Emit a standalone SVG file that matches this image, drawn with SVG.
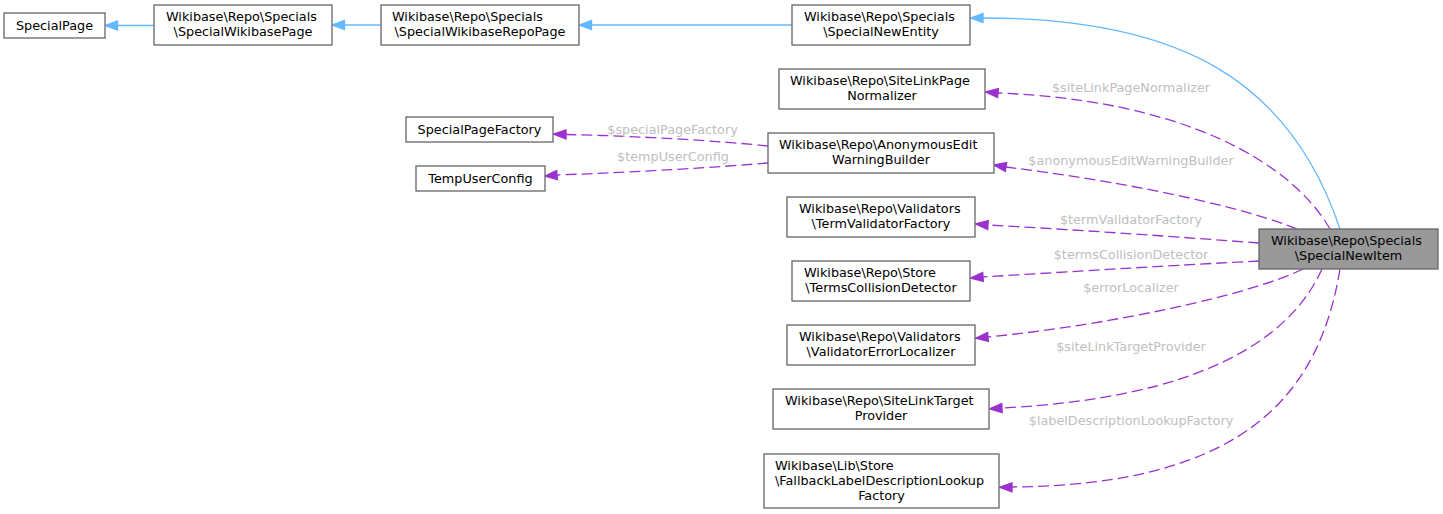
<svg xmlns="http://www.w3.org/2000/svg" width="1443" height="514" viewBox="0 0 1443 514">
<style>
.node rect{fill:#ffffff;stroke:#666666;stroke-width:1.3}
.node.sel rect{fill:#999999}
.node text{font-family:"DejaVu Sans",sans-serif;font-size:12.8px;fill:#000000}
.s{text-anchor:start}
.m{text-anchor:middle}
.inh{fill:none;stroke:#63b8ff;stroke-width:1.3}
.inhh{fill:#63b8ff;stroke:#63b8ff;stroke-width:1.3}
.use{fill:none;stroke:#9a32cd;stroke-width:1.3;stroke-dasharray:11,5}
.useh{fill:#9a32cd;stroke:#9a32cd;stroke-width:1.3}
.lbl{font-family:"DejaVu Sans",sans-serif;font-size:12.8px;fill:#c0c0c0;text-anchor:middle}
</style>
<rect width="1443" height="514" fill="#ffffff"/>
<g id="edges">
<path class="inh" d="M154,25.5 L117.5,25.5"/>
<polygon class="inhh" points="105,25.5 117.5,21 117.5,30"/>
<path class="inh" d="M381,25 L344.5,25"/>
<polygon class="inhh" points="332,25 344.5,20.5 344.5,29.5"/>
<path class="inh" d="M792,25 L591.5,25"/>
<polygon class="inhh" points="579,25 591.5,20.5 591.5,29.5"/>
<path class="inh" d="M1340,229 C1290,80 1180,18 983,18"/>
<polygon class="inhh" points="970.5,18 983,13.5 983,22.5"/>

<path class="use" d="M1330,229 C1290,160 1180,100 998,93"/>
<polygon class="useh" points="985.5,92 998.4,88.5 997.6,97.5"/>
<text class="lbl" x="1131" y="92">$siteLinkPageNormalizer</text>

<path class="use" d="M768,146 C720,141 640,136 566,134.5"/>
<polygon class="useh" points="553.5,134 566,130 566,139"/>
<text class="lbl" x="672.5" y="134">$specialPageFactory</text>

<path class="use" d="M768,163 C720,167 640,172 557,175"/>
<polygon class="useh" points="545,176 557.4,179.5 556.6,170.5"/>
<text class="lbl" x="673" y="161">$tempUserConfig</text>

<path class="use" d="M1297,229 C1250,210 1150,185 1006,167"/>
<polygon class="useh" points="994,165 1006.7,162.6 1005.3,171.4"/>
<text class="lbl" x="1131" y="165">$anonymousEditWarningBuilder</text>

<path class="use" d="M1259,243 C1180,237 1080,230 988,225"/>
<polygon class="useh" points="975.5,224 988.3,220.5 987.7,229.5"/>
<text class="lbl" x="1131" y="223.5">$termValidatorFactory</text>

<path class="use" d="M1259,261 C1180,265 1080,271 983,277"/>
<polygon class="useh" points="970.5,278 982.7,272.5 983.3,281.5"/>
<text class="lbl" x="1131" y="258.5">$termsCollisionDetector</text>

<path class="use" d="M1303,269 C1250,295 1110,325 988,337"/>
<polygon class="useh" points="975.5,338.2 988.4,341.5 987.6,332.5"/>
<text class="lbl" x="1131" y="292">$errorLocalizer</text>

<path class="use" d="M1322,269 C1290,340 1200,398 1002,408"/>
<polygon class="useh" points="989.5,408.8 1002.2,412.5 1001.8,403.5"/>
<text class="lbl" x="1131" y="351">$siteLinkTargetProvider</text>

<path class="use" d="M1340,269 C1320,390 1250,485 1012,487"/>
<polygon class="useh" points="999.5,487.3 1012,482.8 1012,491.8"/>
<text class="lbl" x="1131" y="424.5">$labelDescriptionLookupFactory</text>
</g>

<g id="SpecialPage" class="node">
<rect x="4" y="13" width="101" height="25"/>
<text class="m" x="54.5" y="30">SpecialPage</text>
</g>
<g id="SpecialWikibasePage" class="node">
<rect x="154" y="5" width="178" height="40"/>
<text class="s" x="166" y="21">Wikibase\Repo\Specials</text>
<text class="m" x="243" y="36">\SpecialWikibasePage</text>
</g>
<g id="SpecialWikibaseRepoPage" class="node">
<rect x="381" y="5" width="198" height="40"/>
<text class="s" x="392" y="21">Wikibase\Repo\Specials</text>
<text class="m" x="480" y="36">\SpecialWikibaseRepoPage</text>
</g>
<g id="SpecialNewEntity" class="node">
<rect x="792" y="5" width="178" height="40"/>
<text class="s" x="804" y="21">Wikibase\Repo\Specials</text>
<text class="m" x="881" y="36">\SpecialNewEntity</text>
</g>
<g id="SiteLinkPageNormalizer" class="node">
<rect x="779" y="69" width="206" height="40"/>
<text class="s" x="790" y="85">Wikibase\Repo\SiteLinkPage</text>
<text class="m" x="882" y="100">Normalizer</text>
</g>
<g id="SpecialPageFactory" class="node">
<rect x="406" y="117" width="147" height="25"/>
<text class="m" x="479.5" y="134">SpecialPageFactory</text>
</g>
<g id="AnonymousEditWarningBuilder" class="node">
<rect x="768" y="133" width="226" height="40"/>
<text class="s" x="779" y="149">Wikibase\Repo\AnonymousEdit</text>
<text class="m" x="881" y="164">WarningBuilder</text>
</g>
<g id="TempUserConfig" class="node">
<rect x="416" y="166" width="129" height="25"/>
<text class="m" x="480.5" y="183">TempUserConfig</text>
</g>
<g id="TermValidatorFactory" class="node">
<rect x="787" y="197" width="188" height="40"/>
<text class="s" x="799" y="213">Wikibase\Repo\Validators</text>
<text class="m" x="881" y="228">\TermValidatorFactory</text>
</g>
<g id="TermsCollisionDetector" class="node">
<rect x="792" y="261" width="178" height="40"/>
<text class="s" x="804" y="277">Wikibase\Repo\Store</text>
<text class="m" x="881" y="292">\TermsCollisionDetector</text>
</g>
<g id="ValidatorErrorLocalizer" class="node">
<rect x="787" y="325" width="188" height="40"/>
<text class="s" x="799" y="341">Wikibase\Repo\Validators</text>
<text class="m" x="881" y="356">\ValidatorErrorLocalizer</text>
</g>
<g id="SiteLinkTargetProvider" class="node">
<rect x="773" y="389" width="216" height="40"/>
<text class="s" x="785" y="405">Wikibase\Repo\SiteLinkTarget</text>
<text class="m" x="881" y="420">Provider</text>
</g>
<g id="FallbackLabelDescriptionLookupFactory" class="node">
<rect x="764" y="454" width="235" height="54"/>
<text class="s" x="775" y="470">Wikibase\Lib\Store</text>
<text class="s" x="775" y="485">\FallbackLabelDescriptionLookup</text>
<text class="m" x="881.5" y="500">Factory</text>
</g>
<g id="SpecialNewItem" class="node sel">
<rect x="1259" y="229" width="179" height="40"/>
<text class="s" x="1271" y="245">Wikibase\Repo\Specials</text>
<text class="m" x="1348.5" y="260">\SpecialNewItem</text>
</g>
</svg>
